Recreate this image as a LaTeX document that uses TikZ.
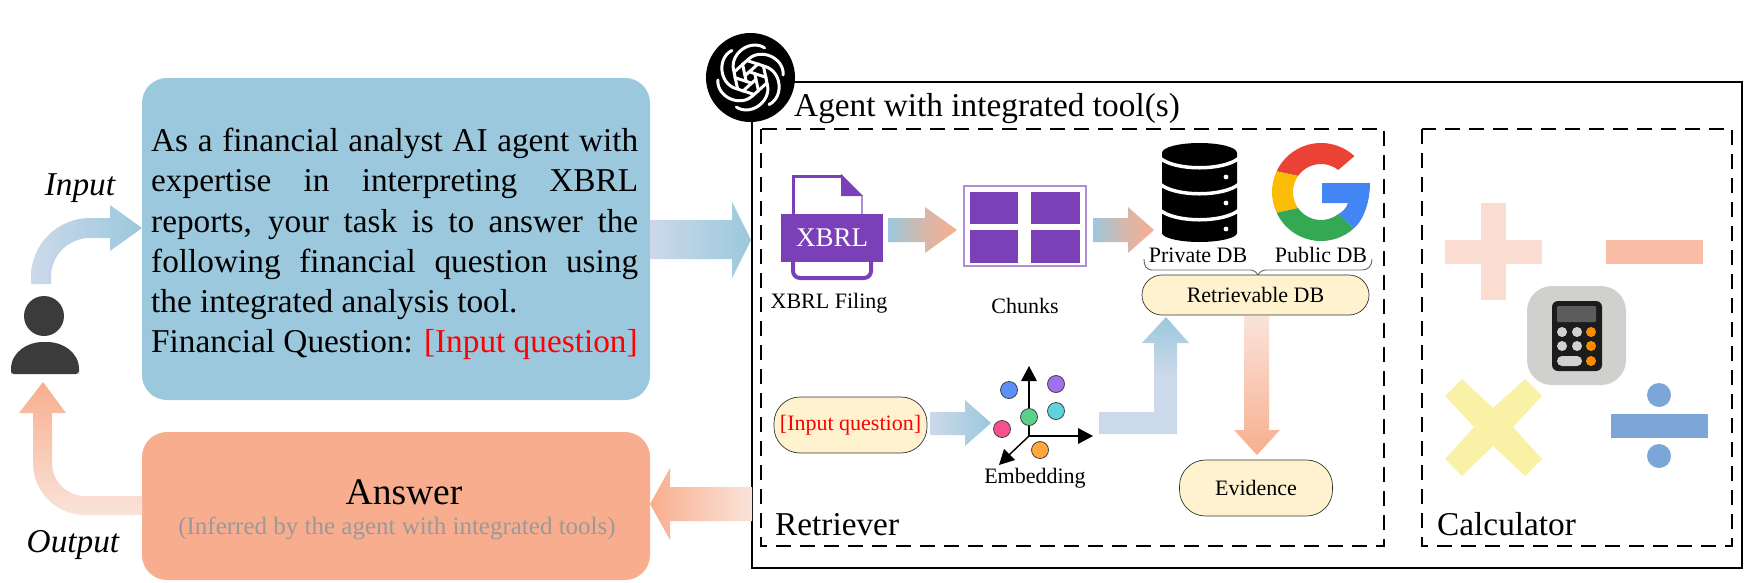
\documentclass[tikz,border=0pt]{standalone}
\usepackage{fontspec}
\setmainfont{Liberation Serif}
\usetikzlibrary{calc}
\definecolor{lblue}{HTML}{CCD9EA}
\definecolor{mblue}{HTML}{9BC8DC}
\definecolor{mor}{HTML}{F8AE8E}
\definecolor{lor}{HTML}{FAE3DA}
\definecolor{cream}{HTML}{FFF2CF}
\definecolor{xpurple}{HTML}{7B40B8}
\tikzset{
  x=1pt,y=-1pt,
  bigtext/.style={font=\fontsize{33.3}{40.2}\selectfont,inner sep=0pt},
  smalltext/.style={font=\fontsize{22}{26}\selectfont,inner sep=0pt},
  pill/.style={draw=black!80,line width=0.7pt,fill=cream,rounded corners=26pt,inner sep=0pt,font=\fontsize{22}{26}\selectfont},
  dashedframe/.style={draw=black,line width=2pt,dash pattern=on 15pt off 9pt},
  dotnode/.style={draw=black!75,line width=0.8pt,circle,minimum size=17pt,inner sep=0pt},
  axisline/.style={draw=black,line width=1.4pt},
  axistip/.style={fill=black},
  duoarrow/.style={left color=mblue,right color=mor,middle color=mor!62!mblue},
}
\begin{document}
\begin{tikzpicture}
\useasboundingbox (0,0) rectangle (1750,582);

% ---------- main boxes
\fill[mblue,rounded corners=25pt] (142,78) rectangle (650,400);
\fill[mor,rounded corners=25pt] (142,432) rectangle (650,580);
\node[bigtext,anchor=north west,text width=487pt,align=justify] (prompt) at (151,128)
 {As a financial analyst AI agent with\linebreak expertise in interpreting XBRL\linebreak reports, your task is to answer the\linebreak following financial question using\linebreak the integrated analysis tool.\newline Financial Question: \textcolor{red}{[Input question]}};
\node[font=\fontsize{37.5}{40}\selectfont,inner sep=0pt,anchor=base] (answer) at (404,504) {Answer};
\node[font=\fontsize{25}{28}\selectfont,inner sep=0pt,anchor=base,text=black!40] (inferred) at (397,534) {(Inferred by the agent with integrated tools)};

% ---------- person
\fill[black!77] (44,316) circle[radius=20pt];
\fill[black!77,rounded corners=3pt] (11,374) -- (11,372) .. controls (11,352) and (28,342) .. (45,342) .. controls (62,342) and (79,352) .. (79,372) -- (79,374) -- cycle;
\node[bigtext,anchor=base] (inputlab) at (80,195) {\itshape Input};
\node[bigtext,anchor=base] (outputlab) at (73,552) {\itshape Output};

% input arrow
\path[left color=lblue,right color=mblue] (31,284) -- (31,277) arc[start angle=180,end angle=90,radius=59pt] -- (110,218) -- (110,205) -- (142,228) -- (110,251) -- (110,238) -- (90,238) arc[start angle=90,end angle=180,radius=39pt] -- (51,284) -- cycle;
% output arrow
\path[top color=mor,bottom color=lor] (142,496) -- (85,496) arc[start angle=270,end angle=180,radius=33pt] -- (52,413) -- (66,413) -- (43,382) -- (19,413) -- (33,413) -- (33,463) arc[start angle=180,end angle=270,radius=52pt] -- (142,515) -- cycle;

% ---------- agent frame
\draw[line width=2.4pt] (752,82) rectangle (1742,568);
\draw[dashedframe] (761,129) rectangle (1384,546);
\draw[dashedframe] (1422,129) rectangle (1732,546);
\node[bigtext,anchor=base west] (agenttitle) at (794,116) {Agent with integrated tool(s)};
\node[bigtext,anchor=base west] (retr) at (775,535) {Retriever};
\node[bigtext,anchor=base west] (calc) at (1437,535) {Calculator};

% main arrows
\path[left color=lblue,right color=mblue] (650,220) -- (732,220) -- (732,202) -- (751,240) -- (732,278) -- (732,259) -- (650,259) -- cycle;
\path[left color=mor,right color=lor] (752,487) -- (670,487) -- (670,468) -- (650,504) -- (670,540) -- (670,521) -- (752,521) -- cycle;

% ---------- logo
\fill[black] (750.5,77.5) circle[radius=44.5pt];
\begin{scope}[shift={(750.5,77.5)},y=1pt]
\foreach \a in {0,60,...,300}{
  \draw[white,line width=3pt,line cap=round,rotate=\a+12]
    (-15,-8) -- (-15,11) .. controls (-15,28) and (8,38) .. (20,26);
  \draw[white,line width=3pt,line cap=round,rotate=\a+12]
    (-5,-3) -- (-5,15);
}
\end{scope}

% ---------- XBRL icon
\draw[xpurple,line width=3pt] (793,216) -- (793,176) -- (843,176);
\fill[xpurple] (841,174) -- (863,196) -- (841,196) -- cycle;
\draw[xpurple!60,line width=1.5pt] (862,196) -- (862,214);
\draw[xpurple,line width=4pt,rounded corners=7pt] (793,262) -- (793,278) -- (871,278) -- (871,262);
\fill[xpurple] (781,214) rectangle (883,262);
\node[font=\fontsize{27}{30}\selectfont,text=white,inner sep=0pt] (xbrl) at (832,238) {XBRL};
\node[smalltext,anchor=base] (xbrlfiling) at (829,308) {XBRL Filing};

% small arrows
\path[duoarrow] (888,218) -- (925,218) -- (925,207) -- (957,230) -- (925,253) -- (925,242) -- (888,242) -- cycle;
\path[duoarrow] (1093,218) -- (1128,218) -- (1128,207) -- (1154,230) -- (1128,253) -- (1128,242) -- (1093,242) -- cycle;

% ---------- chunks
\draw[xpurple!60,line width=1.5pt] (964,186) rectangle (1086,266);
\fill[xpurple] (970,192) rectangle (1018,224);
\fill[xpurple] (1031,192) rectangle (1080,224);
\fill[xpurple] (970,230) rectangle (1018,263);
\fill[xpurple] (1031,230) rectangle (1080,263);
\node[smalltext,anchor=base] (chunks) at (1025,313) {Chunks};

% ---------- database
\fill[black] (1162,153) .. controls (1162,147) and (1180,143) .. (1199.5,143) .. controls (1219,143) and (1237,147) .. (1237,153)
  -- (1237,233) .. controls (1237,238) and (1219,242) .. (1199.5,242) .. controls (1180,242) and (1162,238) .. (1162,233) -- cycle;
\foreach \yy in {158,184,210}{
  \draw[white,line width=3.5pt] (1160,\yy) .. controls (1175,\yy+13) and (1224,\yy+13) .. (1239,\yy);
}
\foreach \yy in {177,203,229}{ \fill[white] (1226,\yy) circle[radius=2.4pt]; }
\node[smalltext,anchor=base] (private) at (1198,262) {Private DB};

% ---------- Google G
\begin{scope}[shift={(1321,192)},y=1pt]
\fill[fill={rgb,255:red,234;green,67;blue,53}] (47:49pt) arc[start angle=47,end angle=155,radius=49pt] -- (145:28pt) arc[start angle=145,end angle=52,radius=28pt] -- cycle;
\fill[fill={rgb,255:red,251;green,188;blue,5}] (155:49pt) arc[start angle=155,end angle=205,radius=49pt] -- (215:28pt) arc[start angle=215,end angle=145,radius=28pt] -- cycle;
\fill[fill={rgb,255:red,52;green,168;blue,83}] (205:49pt) arc[start angle=205,end angle=312,radius=49pt] -- (308:28pt) arc[start angle=308,end angle=215,radius=28pt] -- cycle;
\fill[fill={rgb,255:red,66;green,133;blue,244}] (312:49pt) .. controls +(40:14pt) and (49pt,-8pt) .. (49pt,9pt) -- (1pt,9pt) -- (1pt,-11pt) -- (27pt,-11pt) .. controls (25pt,-17pt) and (21pt,-20pt) .. (308:28pt) -- cycle;
\end{scope}
\node[smalltext,anchor=base] (public) at (1321,262) {Public DB};

% brace
\draw[black!60,line width=0.9pt] (1144,259) .. controls (1144,266) and (1146,270) .. (1153,270) -- (1250,270) .. controls (1254,270) and (1256,272) .. (1258,275) .. controls (1260,272) and (1262,270) .. (1266,270) -- (1362,270) .. controls (1368,270) and (1372,266) .. (1372,259);

% pills
\node[pill,rounded corners=20pt,minimum width=227pt,minimum height=40pt] (retrievable) at (1255.5,295) {Retrievable DB};
\node[pill,minimum width=153pt,minimum height=56pt] (question) at (850.5,425) {\textcolor{red}{[Input question]}};
\node[pill,minimum width=153pt,minimum height=56pt] (evidence) at (1256,488) {Evidence};

% retrievable -> evidence
\path[top color=lor,bottom color=mor] (1244,316) -- (1269,316) -- (1269,430) -- (1280,430) -- (1257,455) -- (1234,430) -- (1244,430) -- cycle;
% question -> embedding
\path[left color=lblue,right color=mblue] (930,412) -- (965,412) -- (965,400) -- (991,423) -- (965,446) -- (965,435) -- (930,435) -- cycle;
% embedding -> retrievable
\path[bottom color=lblue,top color=mblue,middle color=lblue] (1099,412) -- (1154,412) -- (1154,343) -- (1142,343) -- (1166,317) -- (1189,343) -- (1177,343) -- (1177,434) -- (1099,434) -- cycle;

% ---------- embedding
\coordinate (o) at (1029,436);
\draw[axisline] (o) -- (1029,380);
\fill[axistip] (1029,366) -- (1037,381) -- (1021,381) -- cycle;
\draw[axisline] (o) -- (1080,436);
\fill[axistip] (1093,436) -- (1078,444) -- (1078,428) -- cycle;
\draw[axisline] (o) -- (1009,455);
\fill[axistip] (999,465) -- (1004,449) -- (1015,460) -- cycle;
\node[dotnode,fill={rgb,255:red,91;green,208;blue,138}] (dgreen) at (1029,417) {};
\node[dotnode,fill={rgb,255:red,91;green,143;blue,249}] (dblue) at (1009,390) {};
\node[dotnode,fill={rgb,255:red,160;green,112;blue,240}] (dpurple) at (1056,384) {};
\node[dotnode,fill={rgb,255:red,95;green,211;blue,218}] (dcyan) at (1056,411) {};
\node[dotnode,fill={rgb,255:red,246;green,80;blue,142}] (dpink) at (1002,429) {};
\node[dotnode,fill={rgb,255:red,255;green,166;blue,61}] (dorange) at (1040,450) {};
\node[smalltext,anchor=base] (embedding) at (1035,483) {Embedding};

% ---------- calculator
\fill[fill={rgb,255:red,251;green,220;blue,209}] (1481,203) rectangle (1506,300);
\fill[fill={rgb,255:red,251;green,220;blue,209}] (1445,240) rectangle (1542,264);
\fill[fill={rgb,255:red,249;green,189;blue,168}] (1606,240) rectangle (1703,264);
\fill[fill={rgb,255:red,249;green,241;blue,165}] (1445,396) -- (1462,379) -- (1493,408) -- (1525,379) -- (1542,396) -- (1513,427) -- (1542,459) -- (1525,476) -- (1493,446) -- (1462,476) -- (1445,459) -- (1474,427) -- cycle;
\fill[fill={rgb,255:red,124;green,166;blue,216}] (1611,414) rectangle (1708,438);
\fill[fill={rgb,255:red,124;green,166;blue,216}] (1659,395) circle[radius=12pt];
\fill[fill={rgb,255:red,124;green,166;blue,216}] (1659,456) circle[radius=12pt];
\fill[fill={rgb,255:red,208;green,208;blue,206},rounded corners=25pt] (1527,286) rectangle (1626,385);
\fill[fill={rgb,255:red,28;green,28;blue,28},rounded corners=6pt] (1552,301) rectangle (1602,371);
\fill[fill={rgb,255:red,92;green,92;blue,92},rounded corners=1pt] (1557,306) rectangle (1596,322);
\foreach \xx/\yy/\cc in {1562/332/black!18,1577/332/black!18,1591/332/orange!90!yellow,1562/346/black!18,1577/346/black!18,1591/346/orange!90!yellow,1591/361/orange!90!yellow}{
  \fill[\cc] (\xx,\yy) circle[radius=5pt];
}
\fill[black!18,rounded corners=5pt] (1557,356) rectangle (1582,366);
\end{tikzpicture}
\end{document}
